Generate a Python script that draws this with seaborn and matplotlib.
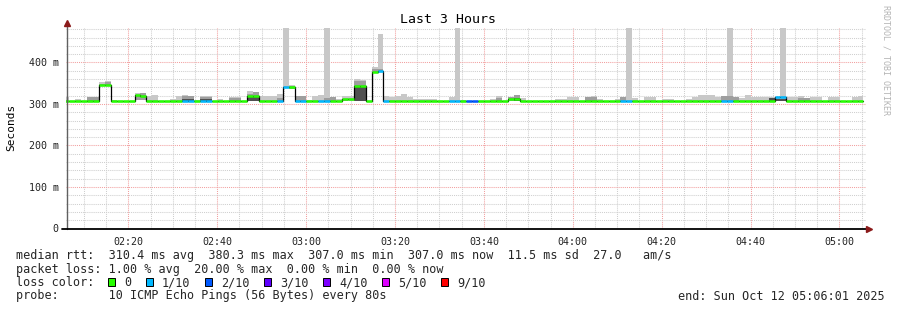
import matplotlib
matplotlib.use("Agg")
import matplotlib.pyplot as plt
import seaborn as sns
import numpy as np
import pandas as pd
from matplotlib.patches import Rectangle
from matplotlib.ticker import MultipleLocator

# ------------------------------------------------------------------ data
title = "Last 3 Hours"
y_label = "Seconds"
side_text = "RRDTOOL / TOBI OETIKER"

view_start_min = 2 * 60 + 6 + 1 / 60          # 02:06:01
view_end_min = view_start_min + 180           # 05:06:01
step_first_min = 2 * 60 + 6 + 44 / 60         # first full 80 s step starts 02:06:44
step_len_min = 80 / 60

x_tick_min = [140, 160, 180, 200, 220, 240, 260, 280, 300]
x_tick_labels = ["02:20", "02:40", "03:00", "03:20", "03:40", "04:00", "04:20", "04:40", "05:00"]
y_tick_s = [0.0, 0.1, 0.2, 0.3, 0.4]
y_tick_labels = ["0", "100 m", "200 m", "300 m", "400 m"]
y_top_s = 0.483

# per 80 s step, step -1 (partial) .. 133
median_ms = [
    307, 307, 307, 307, 307, 307, 345, 345, 307, 307,
    307, 307, 322, 320, 307, 307, 307, 307, 307, 307,
    307, 307, 307, 307, 307, 307, 307, 307, 307, 307,
    307, 320, 320, 307, 307, 307, 307, 342, 340, 307,
    307, 307, 307, 307, 307, 307, 307, 311, 311, 343,
    343, 307, 378, 380.3, 307, 307, 307, 307, 307, 307,
    307, 307, 307, 307, 307, 307, 307, 307, 307, 307,
    307, 307, 307, 307, 307, 311, 311, 307, 307, 307,
    307, 307, 307, 307, 307, 307, 307, 307, 307, 307,
    307, 307, 307, 307, 307, 307, 307, 307, 307, 307,
    307, 307, 307, 307, 307, 307, 307, 307, 307, 307,
    307, 307, 307, 307, 307, 307, 307, 307, 307, 307,
    317, 317, 307, 307, 307, 307, 307, 307, 307, 307,
    307, 307, 307, 307, 307,
]
loss_pings = [
    0, 0, 0, 0, 0, 0, 0, 0, 0, 0,
    0, 0, 0, 0, 0, 0, 0, 0, 0, 0,
    1, 1, 0, 1, 1, 0, 0, 0, 0, 0,
    0, 0, 0, 0, 0, 0, 1, 1, 0, 1,
    1, 0, 0, 1, 1, 0, 0, 0, 0, 0,
    0, 0, 0, 1, 1, 0, 0, 0, 0, 0,
    0, 0, 0, 0, 0, 1, 1, 0, 2, 2,
    0, 0, 0, 0, 0, 0, 0, 0, 0, 0,
    0, 0, 0, 0, 0, 0, 0, 0, 0, 0,
    0, 0, 0, 0, 1, 1, 0, 0, 0, 0,
    0, 0, 0, 0, 0, 0, 0, 0, 0, 0,
    0, 1, 1, 0, 0, 0, 0, 0, 0, 0,
    1, 1, 0, 0, 0, 0, 0, 0, 0, 0,
    0, 0, 0, 0, 0,
]
smoke_min_ms = [
    307, 307, 307, 307, 307, 307, 343, 343, 307, 307,
    307, 307, 309, 309, 307, 307, 307, 307, 307, 307,
    307, 307, 307, 307, 307, 307, 307, 307, 307, 307,
    307, 308, 308, 307, 307, 307, 307, 338, 337, 307,
    307, 307, 307, 307, 307, 307, 307, 307, 307, 307,
    307, 307, 375, 376, 307, 307, 307, 307, 307, 307,
    307, 307, 307, 307, 307, 307, 307, 307, 307, 307,
    307, 307, 307, 307, 307, 307, 307, 307, 307, 307,
    307, 307, 307, 307, 307, 307, 307, 307, 307, 307,
    307, 307, 307, 307, 307, 307, 307, 307, 307, 307,
    307, 307, 307, 307, 307, 307, 307, 307, 307, 307,
    307, 307, 307, 307, 307, 307, 307, 307, 307, 307,
    307, 307, 307, 307, 307, 307, 307, 307, 307, 307,
    307, 307, 307, 307, 307,
]
smoke_dark_ms = [
    307, 307, 307, 307, 307, 307, 343, 343, 307, 307,
    307, 307, 309, 309, 307, 307, 307, 307, 307, 307,
    313, 313, 307, 313, 313, 307, 307, 307, 307, 307,
    307, 317, 317, 307, 307, 307, 307, 338, 337, 307,
    307, 307, 307, 307, 307, 307, 307, 307, 307, 340,
    340, 307, 375, 376, 307, 307, 307, 307, 307, 307,
    307, 307, 307, 307, 307, 307, 307, 307, 307, 307,
    307, 307, 307, 307, 307, 307, 315, 307, 307, 307,
    307, 307, 307, 307, 307, 307, 307, 307, 307, 307,
    307, 307, 307, 307, 307, 307, 307, 307, 307, 307,
    307, 307, 307, 307, 307, 307, 307, 307, 307, 307,
    307, 307, 307, 307, 307, 307, 307, 307, 307, 315,
    313, 313, 307, 307, 307, 307, 307, 307, 307, 307,
    307, 307, 307, 307, 307,
]
smoke_mid_ms = [
    307, 307, 307, 307, 316, 316, 348, 353, 307, 307,
    307, 307, 318, 326, 307, 307, 307, 307, 307, 307,
    318, 318, 307, 316, 316, 307, 307, 307, 314, 314,
    307, 324, 328, 307, 307, 307, 315, 338, 343, 320,
    320, 307, 307, 307, 315, 316, 307, 313, 307, 356,
    355, 307, 384, 385, 307, 307, 307, 307, 307, 307,
    307, 307, 307, 307, 307, 307, 307, 307, 307, 307,
    307, 307, 307, 314, 307, 317, 321, 307, 307, 307,
    307, 307, 307, 307, 307, 307, 307, 307, 316, 316,
    307, 307, 307, 307, 317, 307, 307, 307, 307, 307,
    307, 307, 307, 307, 307, 307, 307, 307, 307, 307,
    307, 318, 318, 316, 307, 307, 307, 307, 307, 315,
    313, 313, 307, 307, 315, 315, 307, 307, 307, 307,
    307, 307, 307, 307, 307,
]
smoke_max_ms = [
    316, 308, 312, 308, 317, 317, 352, 355, 310, 308,
    308, 308, 326, 327, 318, 321, 308, 308, 313, 320,
    322, 320, 309, 319, 318, 308, 311, 308, 316, 316,
    308, 331, 329, 318, 318, 320, 323, 500, 345, 320,
    320, 309, 320, 322, 500, 316, 312, 318, 319, 360,
    357, 308, 389, 468, 319, 316, 318, 323, 316, 313,
    313, 312, 312, 308, 308, 317, 500, 310, 308, 308,
    308, 308, 313, 319, 308, 317, 321, 315, 308, 308,
    308, 308, 308, 312, 312, 317, 317, 308, 316, 320,
    313, 308, 308, 312, 317, 500, 314, 308, 317, 317,
    308, 312, 312, 308, 308, 312, 317, 322, 322, 322,
    317, 319, 500, 316, 315, 322, 317, 316, 316, 316,
    317, 500, 317, 317, 320, 315, 317, 317, 308, 317,
    317, 308, 308, 317, 320,
]

loss_legend_labels = ["0", "1/10", "2/10", "3/10", "4/10", "5/10", "9/10"]
loss_legend_colors = ["#26ff00", "#00b8ff", "#0059ff", "#5e00ff", "#7e00ff", "#dd00ff", "#ff0000"]
loss_color_by_count = ["#26ff00", "#00b8ff", "#0059ff", "#5e00ff", "#7e00ff", "#dd00ff",
                       "#ff0000", "#ff0000", "#ff0000", "#ff0000", "#ff0000"]

stat_lines = [
    "median rtt:  310.4 ms avg  380.3 ms max  307.0 ms min  307.0 ms now  11.5 ms sd  27.0   am/s",
    "packet loss: 1.00 % avg  20.00 % max  0.00 % min  0.00 % now",
]
loss_label = "loss color:"
probe_line = "probe:       10 ICMP Echo Pings (56 Bytes) every 80s"
end_line = "end: Sun Oct 12 05:06:01 2025"

# ------------------------------------------------------------------ style
sns.set_style("white")
MONO = "DejaVu Sans Mono"
plt.rcParams["font.family"] = [MONO, "DejaVu Sans"]

W, H = 897, 310
fig = plt.figure(figsize=(W / 100, H / 100), dpi=100)
fig.patch.set_facecolor("white")
L, B, AW, AH = 66.2, 81.5, 800.0, 200.5
ax = fig.add_axes([L / W, B / H, AW / W, AH / H])
ax.set_facecolor("white")

n = len(median_ms)
starts = step_first_min + (np.arange(n) - 1) * step_len_min
edges = np.append(starts, starts[-1] + step_len_min)


def ext(a):
    a = np.asarray(a, float) / 1000.0
    return np.append(a, a[-1])


ax.fill_between(edges, ext(smoke_min_ms), ext(smoke_max_ms), step="post",
                color="#c8c8c8", lw=0, zorder=2)
ax.fill_between(edges, ext(smoke_min_ms), ext(smoke_mid_ms), step="post",
                color="#9e9e9e", lw=0, zorder=2.1)
ax.fill_between(edges, ext(smoke_min_ms), ext(smoke_dark_ms), step="post",
                color="#505050", lw=0, zorder=2.2)

df = pd.DataFrame({"t": edges, "median": ext(median_ms)})
sns.lineplot(data=df, x="t", y="median", drawstyle="steps-post", color="black",
             lw=0.9, ax=ax, zorder=3, estimator=None, sort=False, legend=False)

seg_colors = [loss_color_by_count[c] for c in loss_pings]
ax.hlines(np.asarray(median_ms) / 1000.0, starts, starts + step_len_min,
          colors=seg_colors, lw=1.8, zorder=4)

ax.set_xlim(view_start_min, view_end_min)
ax.set_ylim(0, y_top_s)
ax.set_xlabel("")
ax.set_ylabel("")

ax.set_xticks(x_tick_min)
ax.set_xticklabels(x_tick_labels, fontsize=7.2, family=MONO)
ax.xaxis.set_minor_locator(MultipleLocator(5))
ax.set_yticks(y_tick_s)
ax.set_yticklabels(y_tick_labels, fontsize=7.2, family=MONO)
ax.yaxis.set_minor_locator(MultipleLocator(0.02))
ax.grid(which="minor", color="#cfcfcf", ls=(0, (1, 1)), lw=0.75)
ax.grid(which="major", color="#f2a0a0", ls=(0, (1, 1)), lw=0.75)
ax.set_axisbelow(True)
ax.tick_params(axis="both", which="both", length=2, width=0.6, color="#999999",
               direction="out")
ax.tick_params(axis="x", which="major", pad=4.0, labelcolor="#222222")
ax.tick_params(axis="y", which="major", pad=3.5, labelcolor="#222222")
for s in ax.spines.values():
    s.set_visible(False)

# axis lines and arrows
ax.plot([0.001, 0.001], [0, 1.015], transform=ax.transAxes, color="#606060",
        lw=1.0, clip_on=False, zorder=6)
ax.plot([-0.005, 1.0], [0, 0], transform=ax.transAxes, color="black",
        lw=1.3, clip_on=False, zorder=6)
ax.plot([0.001], [1.025], marker="^", ms=4.5, color="#8b1a1a", mec="#8b1a1a",
        transform=ax.transAxes, clip_on=False, zorder=7)
ax.plot([1.004], [0], marker=">", ms=4.5, color="#8b1a1a", mec="#8b1a1a",
        transform=ax.transAxes, clip_on=False, zorder=7)

# titles / side texts
fig.text(447.5 / W, 1 - 19.5 / H, title, ha="center", va="center",
         fontsize=9.5, family=MONO, color="black")
fig.text(11 / W, 1 - 127 / H, y_label, rotation=90, ha="center", va="center",
         fontsize=8.0, family=MONO, color="black")
fig.text(886 / W, 1 - 60 / H, side_text, rotation=-90, ha="center", va="center",
         fontsize=6.0, family=MONO, color="#b4b4b4")

# legend / stats
FS = 8.5
CW = 7.11
X0 = 16
fig.text(X0 / W, 1 - 259 / H, stat_lines[0], fontsize=FS, family=MONO, va="baseline")
fig.text(X0 / W, 1 - 272.5 / H, stat_lines[1], fontsize=FS, family=MONO, va="baseline")
fig.text(X0 / W, 1 - 286 / H, loss_label, fontsize=FS, family=MONO, va="baseline")
sx = X0 + 13 * CW
for lab, col in zip(loss_legend_labels, loss_legend_colors):
    fig.add_artist(Rectangle((sx / W, 1 - 285.7 / H), 7 / W, 7.4 / H,
                             transform=fig.transFigure, facecolor=col,
                             edgecolor="black", lw=0.7))
    tx = sx + 15.7
    fig.text(tx / W, 1 - 286 / H, lab, fontsize=FS, family=MONO, va="baseline")
    sx = tx + len(lab) * CW + 14.9
fig.text(X0 / W, 1 - 299.5 / H, probe_line, fontsize=FS, family=MONO, va="baseline")
fig.text(678 / W, 1 - 299.5 / H, end_line, fontsize=FS, family=MONO, va="baseline")

fig.savefig("out.png", dpi=100, facecolor="white")
